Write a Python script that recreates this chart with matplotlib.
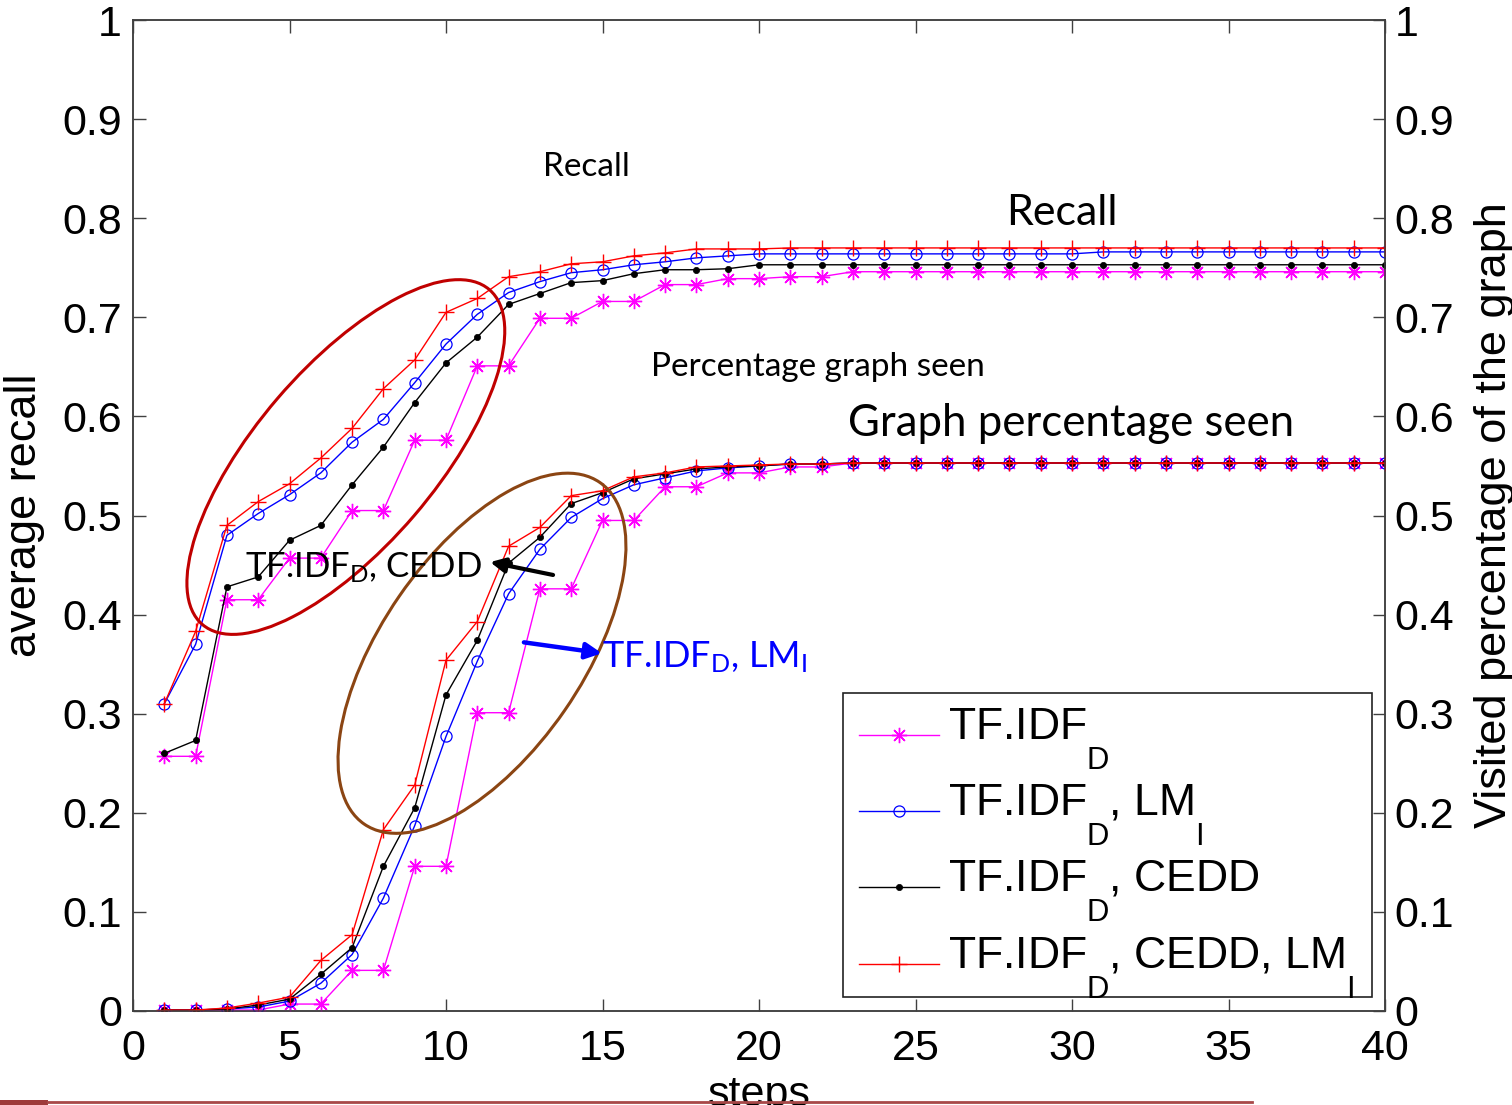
"""Recall and visited-graph percentage per step for four retrieval setups."""

import numpy as np
import matplotlib
matplotlib.use("Agg")
import matplotlib.pyplot as plt
from matplotlib.patches import Ellipse, Rectangle
from matplotlib.lines import Line2D
from matplotlib.legend_handler import HandlerLine2D
from matplotlib.transforms import ScaledTranslation

plt.rcParams["mathtext.default"] = "regular"
plt.rcParams["font.family"] = ["Liberation Sans", "DejaVu Sans"]

steps = np.arange(1, 41)

# MATLAB legend subscripts hang fully below the baseline
SUB_D = r"$\underset{D}{\,}$"
SUB_I = r"$\underset{I}{\,}$"

labels = [
    "TF.IDF" + SUB_D,
    "TF.IDF" + SUB_D + ", LM" + SUB_I,
    "TF.IDF" + SUB_D + ", CEDD",
    "TF.IDF" + SUB_D + ", CEDD, LM" + SUB_I,
]

# upper group: average recall
recall_tfidf = [0.257, 0.257, 0.415, 0.415, 0.457, 0.457, 0.505, 0.505, 0.576, 0.576,
                0.651, 0.651, 0.699, 0.699, 0.716, 0.716, 0.733, 0.733, 0.739, 0.739,
                0.741, 0.741, 0.746, 0.746, 0.746, 0.746, 0.746, 0.746, 0.746, 0.746,
                0.746, 0.746, 0.746, 0.746, 0.746, 0.746, 0.746, 0.746, 0.746, 0.746]
recall_lm = [0.310, 0.370, 0.480, 0.502, 0.521, 0.543, 0.574, 0.597, 0.634, 0.673,
             0.703, 0.725, 0.736, 0.745, 0.748, 0.753, 0.756, 0.760, 0.762, 0.764,
             0.764, 0.764, 0.764, 0.764, 0.764, 0.764, 0.764, 0.764, 0.764, 0.764,
             0.766, 0.766, 0.766, 0.766, 0.766, 0.766, 0.766, 0.766, 0.766, 0.766]
recall_cedd = [0.260, 0.273, 0.428, 0.438, 0.475, 0.490, 0.531, 0.569, 0.614, 0.654,
               0.680, 0.713, 0.724, 0.735, 0.737, 0.744, 0.748, 0.748, 0.749, 0.753,
               0.753, 0.753, 0.753, 0.753, 0.753, 0.753, 0.753, 0.753, 0.753, 0.753,
               0.753, 0.753, 0.753, 0.753, 0.753, 0.753, 0.753, 0.753, 0.753, 0.753]
recall_cedd_lm = [0.310, 0.383, 0.490, 0.514, 0.532, 0.558, 0.588, 0.628, 0.657, 0.705,
                  0.719, 0.741, 0.746, 0.754, 0.756, 0.762, 0.765, 0.769, 0.769, 0.769,
                  0.770, 0.770, 0.770, 0.770, 0.770, 0.770, 0.770, 0.770, 0.770, 0.770,
                  0.770, 0.770, 0.770, 0.770, 0.770, 0.770, 0.770, 0.770, 0.770, 0.770]

# lower group: visited percentage of the graph
seen_tfidf = [0.001, 0.001, 0.001, 0.001, 0.007, 0.007, 0.041, 0.041, 0.146, 0.146,
              0.301, 0.301, 0.426, 0.426, 0.495, 0.495, 0.529, 0.529, 0.543, 0.543,
              0.549, 0.549, 0.553, 0.553, 0.553, 0.553, 0.553, 0.553, 0.553, 0.553,
              0.553, 0.553, 0.553, 0.553, 0.553, 0.553, 0.553, 0.553, 0.553, 0.553]
seen_lm = [0.001, 0.001, 0.002, 0.004, 0.010, 0.028, 0.057, 0.114, 0.187, 0.277,
           0.353, 0.421, 0.466, 0.498, 0.517, 0.531, 0.538, 0.545, 0.548, 0.550,
           0.552, 0.552, 0.553, 0.553, 0.553, 0.553, 0.553, 0.553, 0.553, 0.553,
           0.553, 0.553, 0.553, 0.553, 0.553, 0.553, 0.553, 0.553, 0.553, 0.553]
seen_cedd = [0.001, 0.001, 0.002, 0.006, 0.012, 0.037, 0.064, 0.146, 0.205, 0.319,
             0.374, 0.452, 0.478, 0.512, 0.523, 0.537, 0.542, 0.547, 0.549, 0.550,
             0.552, 0.552, 0.553, 0.553, 0.553, 0.553, 0.553, 0.553, 0.553, 0.553,
             0.553, 0.553, 0.553, 0.553, 0.553, 0.553, 0.553, 0.553, 0.553, 0.553]
seen_cedd_lm = [0.001, 0.001, 0.003, 0.008, 0.014, 0.051, 0.077, 0.183, 0.228, 0.354,
                0.393, 0.469, 0.488, 0.520, 0.525, 0.539, 0.543, 0.549, 0.550, 0.551,
                0.552, 0.552, 0.553, 0.553, 0.553, 0.553, 0.553, 0.553, 0.553, 0.553,
                0.553, 0.553, 0.553, 0.553, 0.553, 0.553, 0.553, 0.553, 0.553, 0.553]

styles = [
    dict(color="#ff00ff", marker=(8, 2, 0), ms=11, mew=1.0),
    dict(color="#0000ff", marker="o", ms=8, mfc="none", mew=0.9),
    dict(color="#000000", marker="o", ms=4.5, mew=0.5),
    dict(color="#ff0000", marker="+", ms=12, mew=1.0),
]


class LowLineHandler(HandlerLine2D):
    """Legend line sitting near the text baseline, as MATLAB draws it."""

    def create_artists(self, legend, orig_handle, xdescent, ydescent, width, height,
                       fontsize, trans):
        arts = super().create_artists(legend, orig_handle, xdescent, ydescent, width,
                                      height, fontsize, trans)
        for a in arts:
            a.set_ydata(np.asarray(a.get_ydata()) - 0.24 * fontsize)
        return arts


fig = plt.figure(figsize=(15.12, 11.05), dpi=100)
ax = fig.add_axes([133 / 1512, 1 - 1011 / 1105, 1252 / 1512, 991 / 1105])

handles = []
for label, rec, seen, st in zip(labels,
                                [recall_tfidf, recall_lm, recall_cedd, recall_cedd_lm],
                                [seen_tfidf, seen_lm, seen_cedd, seen_cedd_lm],
                                styles):
    h, = ax.plot(steps, rec, lw=1.0, label=label, zorder=3, **st)
    ax.plot(steps, seen, lw=1.0, zorder=3, **st)
    handles.append(h)

ax.set_xlim(0, 40)
ax.set_ylim(0, 1)
yt = np.round(np.arange(0, 1.01, 0.1), 1)
ytl = ["0"] + [f"{v:g}" for v in yt[1:-1]] + ["1"]
ax.set_xticks(np.arange(0, 41, 5))
ax.set_yticks(yt)
ax.set_yticklabels(ytl)

ax2 = ax.twinx()
ax2.set_ylim(0, 1)
ax2.set_yticks(yt)
ax2.set_yticklabels(ytl)

spine_c = "#404040"
for a in (ax, ax2):
    for s in a.spines.values():
        s.set_color(spine_c)
        s.set_linewidth(1.1)
ax.tick_params(direction="in", length=9, width=1, color=spine_c, labelsize=31,
               top=True, right=False)
ax.tick_params(axis="x", pad=13)
ax.tick_params(axis="y", pad=8)
ax2.tick_params(direction="in", length=9, width=1, color=spine_c, labelsize=31, pad=7)

ax.set_xlabel("steps", fontsize=31, labelpad=4)
ax.set_ylabel("average recall", fontsize=32.5)
ax.yaxis.set_label_coords(-0.070, 0.5)
ax2.set_ylabel("Visited percentage of the graph", fontsize=32.5)
ax2.yaxis.set_label_coords(1.071, 0.5)

# legend box drawn separately so the entries can sit freely inside it
ax.add_patch(Rectangle((0.567, 0.0141), 0.4225, 0.3068, transform=ax.transAxes,
                       fc="white", ec="#222222", lw=1.2, zorder=5))
leg = ax.legend(handles=handles, loc="upper left", bbox_to_anchor=(0.5799, 0.3067),
                fontsize=32, frameon=False, handlelength=1.8, handletextpad=0.2,
                labelspacing=0.25, borderpad=0, borderaxespad=0,
                handler_map={Line2D: LowLineHandler()})
leg.set_zorder(6)

# curve-group captions
calibri = ["Lato", "DejaVu Sans"]
ax.text(14.5, 0.852, "Recall", fontsize=24, family=calibri, ha="center", va="center")
ax.text(29.68, 0.805, "Recall", fontsize=31, family=calibri, ha="center", va="center")
ax.text(21.88, 0.650, "Percentage graph seen", fontsize=24, family=calibri,
        ha="center", va="center")
ax.text(29.97, 0.593, "Graph percentage seen", fontsize=31.5, family=calibri,
        ha="center", va="center")

ax.text(3.58, 0.437, "TF.IDF$_{D}$, CEDD", fontsize=25, family=calibri,
        ha="left", va="baseline", zorder=6)
ax.text(14.98, 0.347, "TF.IDF$_{D}$, LM$_{I}$", fontsize=26, family=calibri,
        color="#0000ff", ha="left", va="baseline", zorder=6)
ax.annotate("", xy=(11.41, 0.453), xytext=(13.42, 0.440),
            arrowprops=dict(arrowstyle="-|>", color="k", lw=3, mutation_scale=22,
                            shrinkA=0, shrinkB=0), zorder=6)
ax.annotate("", xy=(14.98, 0.361), xytext=(12.49, 0.372),
            arrowprops=dict(arrowstyle="-|>", color="#0000ff", lw=3.2, mutation_scale=24,
                            shrinkA=0, shrinkB=0), zorder=6)

# highlight ellipses, size in inches so the angle is kept on screen
for (cx, cy), w, h, ang, col in [((6.80, 0.559), 4.41, 1.80, 49.4, "#c00000"),
                                 ((11.15, 0.361), 4.15, 2.01, 55.4, "#8b4513")]:
    tr = fig.dpi_scale_trans + ScaledTranslation(cx, cy, ax.transData)
    ax.add_artist(Ellipse((0, 0), w, h, angle=ang, transform=tr, fill=False,
                          ec=col, lw=2.2, zorder=4))

# slide footer strip cut off at the bottom edge
fig.add_artist(Rectangle((0, 0), 48 / 1512, 5 / 1105, transform=fig.transFigure,
                         color="#9e3a3a", lw=0))
fig.add_artist(Line2D([48 / 1512, 1252 / 1512], [3 / 1105, 3 / 1105],
                      transform=fig.transFigure, color="#a84848", lw=2))

fig.savefig("out.png", dpi=100)
